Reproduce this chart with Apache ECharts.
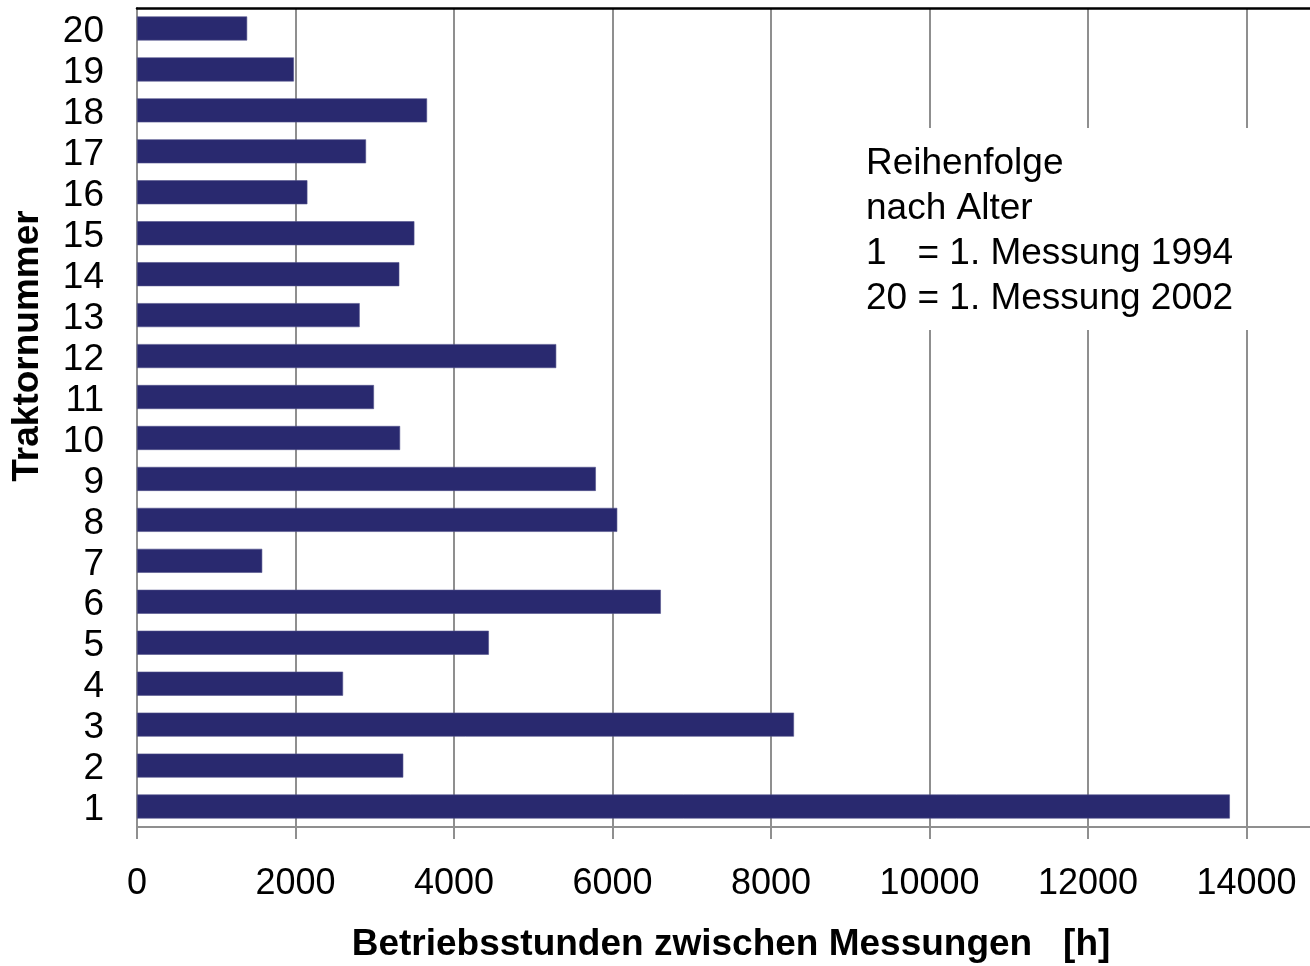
<!DOCTYPE html>
<html>
<head>
<meta charset="utf-8">
<script src="https://cdn.jsdelivr.net/npm/echarts@6/dist/echarts.min.js"></script>
<style>
  html, body { margin: 0; padding: 0; background: #fff; }
  #chart { width: 1310px; height: 966px; }
</style>
</head>
<body>
<div id="chart"></div>
<script>
// Traktornummer 1..20 (1 = aeltester)
var tractors = ['1', '2', '3', '4', '5', '6', '7', '8', '9', '10',
  '11', '12', '13', '14', '15', '16', '17', '18', '19', '20'];
// Betriebsstunden zwischen Messungen [h]
var hours = [13790, 3360, 8290, 2600, 4440, 6610, 1580, 6060, 5790, 3320,
  2990, 5290, 2810, 3310, 3500, 2150, 2890, 3660, 1980, 1390];
var xTicks = [0, 2000, 4000, 6000, 8000, 10000, 12000, 14000];

var font = 'Liberation Sans, Arial, sans-serif';
var grey = '#8f8f8f';

var chart = echarts.init(document.getElementById('chart'));
chart.setOption({
  animation: false,
  grid: {left: 137, top: 8, width: 1268, height: 819, outerBoundsMode: 'none'},
  xAxis: [{
    type: 'value',
    min: 0,
    max: 16000,
    interval: 2000,
    axisLine: {show: true, lineStyle: {color: grey, width: 2}},
    axisTick: {show: true, length: 12, lineStyle: {color: grey, width: 2}},
    splitLine: {show: true, lineStyle: {color: grey, width: 2}},
    axisLabel: {
      fontSize: 36, color: '#000', fontFamily: font, margin: 39,
      formatter: function (v) { return xTicks.indexOf(v) >= 0 ? String(v) : ''; }
    }
  }, {
    type: 'value',
    position: 'top',
    min: 0,
    max: 16000,
    axisLine: {show: true, lineStyle: {color: '#000', width: 2.5}},
    axisTick: {show: false},
    axisLabel: {show: false},
    splitLine: {show: false}
  }],
  yAxis: {
    type: 'category',
    data: tractors,
    axisLine: {lineStyle: {color: grey, width: 2}},
    axisTick: {length: 10, interval: 0, lineStyle: {color: grey, width: 2}},
    axisLabel: {
      interval: 0, margin: 33,
      formatter: function (v) { return '{n|' + v + '}'; },
      rich: {n: {fontSize: 37, color: '#000', fontFamily: font, padding: [7, 0, 0, 0]}}
    }
  },
  series: [{
    type: 'bar',
    xAxisIndex: 0,
    data: hours,
    barWidth: 24,
    itemStyle: {color: '#29296f', borderColor: '#52528c', borderWidth: 0.6}
  }],
  graphic: [{
    type: 'rect',
    z: 100,
    shape: {x: 855, y: 128, width: 397, height: 202},
    style: {fill: '#fff'}
  }, {
    type: 'text',
    z: 101,
    x: 866,
    y: 141,
    style: {
      text: 'Reihenfolge\nnach Alter\n1   = 1. Messung 1994\n20 = 1. Messung 2002',
      font: '37px ' + font,
      lineHeight: 45,
      fill: '#000'
    }
  }, {
    type: 'text',
    z: 101,
    x: 731,
    y: 945,
    style: {
      text: 'Betriebsstunden zwischen Messungen   [h]',
      font: 'bold 37px ' + font,
      fill: '#000',
      align: 'center',
      verticalAlign: 'middle'
    }
  }, {
    type: 'text',
    z: 101,
    x: 28,
    y: 346,
    rotation: Math.PI / 2,
    style: {
      text: 'Traktornummer',
      font: 'bold 37px ' + font,
      fill: '#000',
      align: 'center',
      verticalAlign: 'middle'
    }
  }]
});
</script>
</body>
</html>
